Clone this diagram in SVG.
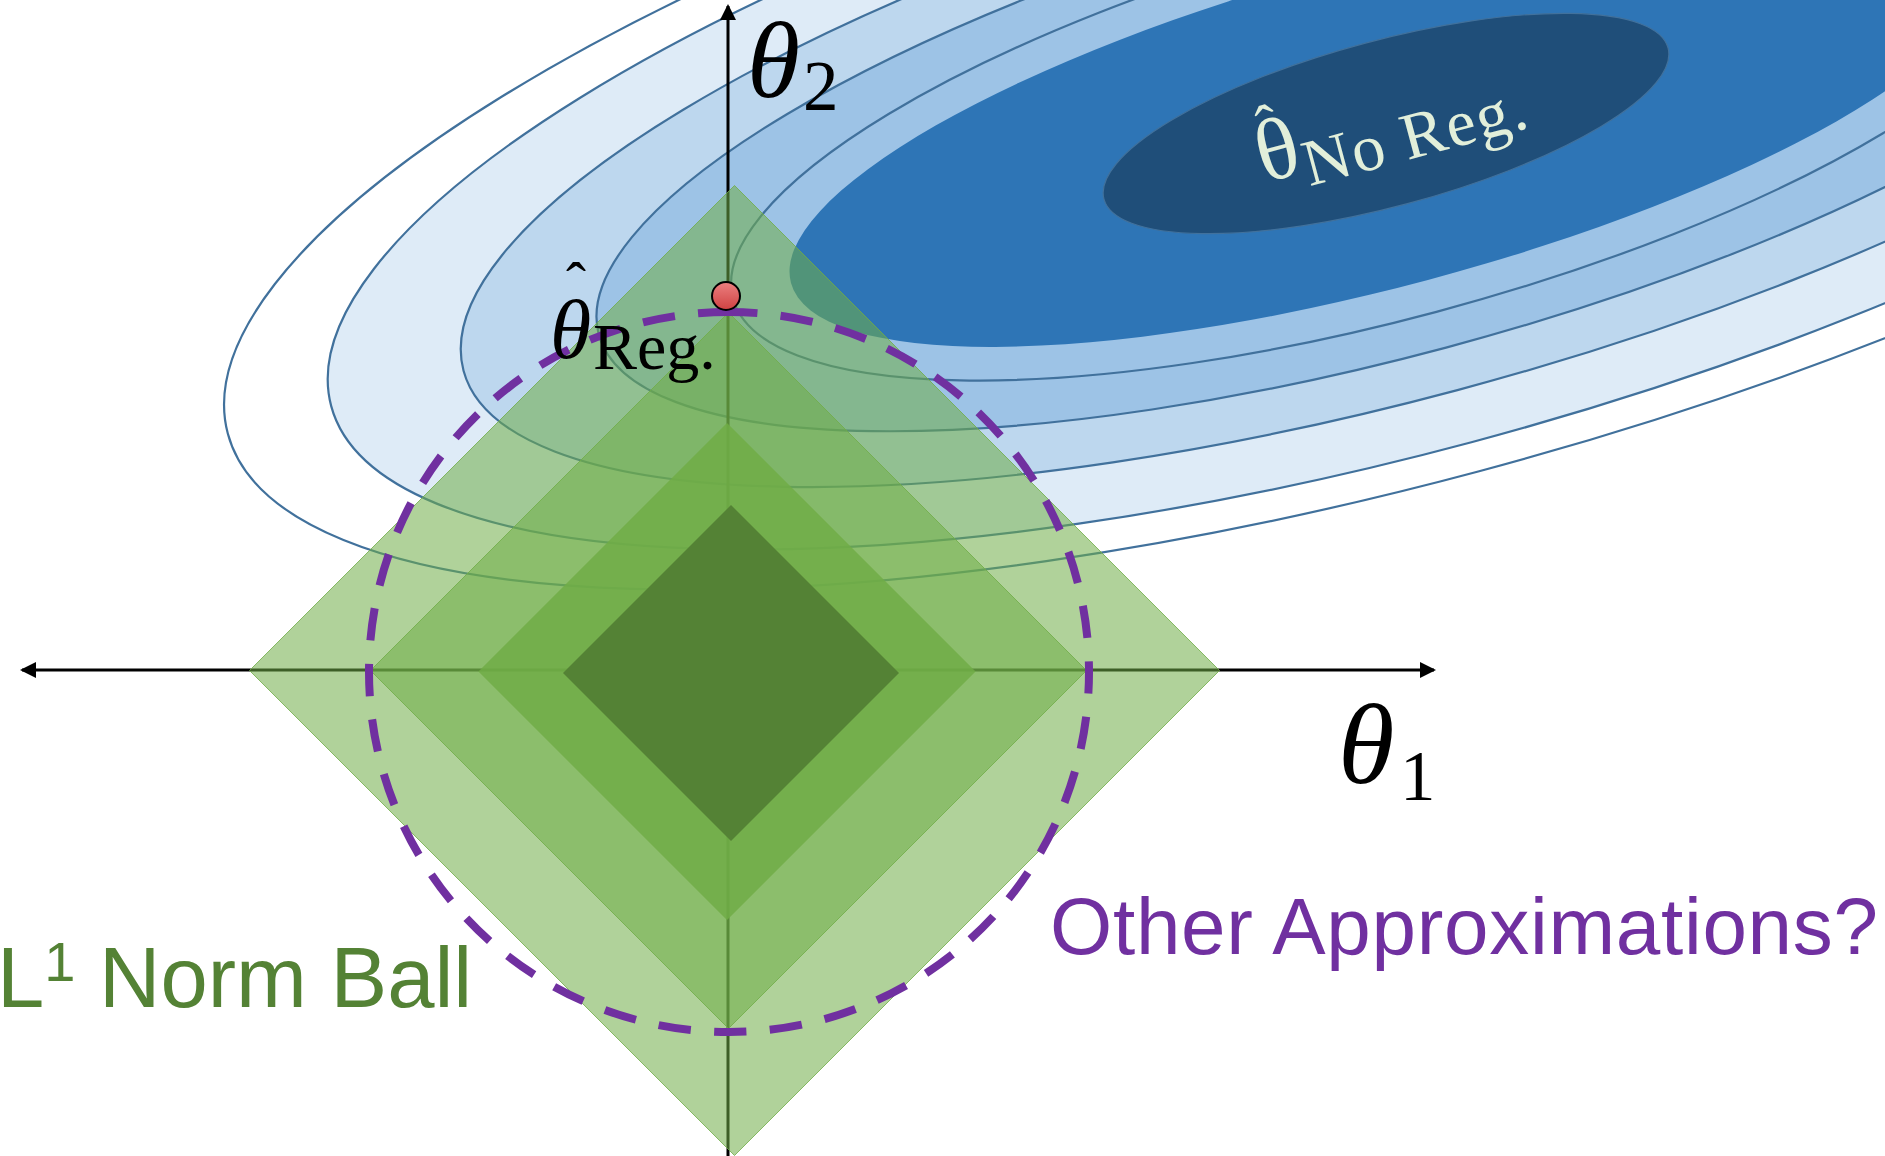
<svg xmlns="http://www.w3.org/2000/svg" width="1885" height="1156" viewBox="0 0 1885 1156">
<defs>
<style>
.cont{stroke:#41719c;stroke-width:2.2}
.dia{fill:#70AD47;stroke:#70AD47;stroke-width:1}
.axis{stroke:#000;stroke-width:3;fill:none}
.math{font-family:"Liberation Serif","DejaVu Serif",serif;fill:#000}
.it{font-style:italic}
.up{font-style:normal}
.lbl{font-family:"Liberation Sans","DejaVu Sans",sans-serif}
.pale{fill:#e2efda}
</style>
<marker id="arr" viewBox="0 0 16 16" refX="14" refY="8" markerWidth="16" markerHeight="16" markerUnits="userSpaceOnUse" orient="auto-start-reverse">
<path d="M0,0 L16,8 L0,16 Z" fill="#000"/>
</marker>
<linearGradient id="dotg" x1="0" y1="0" x2="0" y2="1">
<stop offset="0" stop-color="#ec8080"/>
<stop offset="1" stop-color="#cf4242"/>
</linearGradient>
</defs>
<rect width="1885" height="1156" fill="#fff"/>

<g id="loss-contours" transform="translate(1386,123.5) rotate(-15)">
<ellipse class="cont" fill="none" rx="1199" ry="360"/>
<ellipse class="cont" fill="#deebf7" rx="1092" ry="330"/>
<ellipse class="cont" fill="#bdd7ee" rx="955" ry="276"/>
<ellipse class="cont" fill="#9dc3e6" rx="815" ry="232"/>
<ellipse class="cont" fill="none" rx="676" ry="195"/>
<ellipse fill="#2e75b6" rx="616" ry="162"/>
<ellipse fill="#1f4e79" stroke="#41719c" stroke-width="1.2" rx="292" ry="83"/>
</g>

<g id="connectors">
<line class="axis" x1="728" y1="1156" x2="728" y2="6" marker-end="url(#arr)"/>
<line class="axis" x1="22" y1="670" x2="1434" y2="670" marker-start="url(#arr)" marker-end="url(#arr)"/>
</g>

<g id="l1-balls">
<polygon class="dia" fill-opacity="0.55" stroke-opacity="0.8" points="734.5,185.5 1219.5,670.5 734.5,1155.5 249.5,670.5"/>
<polygon class="dia" fill-opacity="0.55" stroke-opacity="0.8" points="728.5,312.5 1086.5,670.5 728.5,1028.5 370.5,670.5"/>
<polygon class="dia" fill-opacity="0.85" stroke-opacity="0.8" points="727,423.5 975,671.5 727,919.5 479,671.5"/>
<polygon fill="#548235" points="731,505 899,673 731,841 563,673"/>
</g>

<g id="approx-circle">
<path d="M729,312 A360,360 0 1 1 729,1032 A360,360 0 1 1 729,312" fill="none" stroke="#7030a0" stroke-width="8" stroke-dasharray="32.5 23.35" stroke-dashoffset="4"/>
</g>

<g id="theta-reg-point">
<circle cx="726" cy="296" r="14" fill="url(#dotg)" stroke="#000" stroke-width="2"/>
</g>

<g id="label-theta2">
<text class="math it" x="747" y="97" font-size="108">θ<tspan class="up" x="803" y="110" font-size="71">2</tspan></text>
</g>

<g id="label-theta1">
<text class="math it" x="1338" y="783" font-size="115">θ<tspan class="up" x="1400" y="800" font-size="71">1</tspan></text>
</g>

<g id="label-theta-reg">
<text class="math it" x="550" y="358" font-size="84">θ<tspan class="up" x="566" y="303" font-size="60">ˆ</tspan><tspan class="up" x="593" y="369" font-size="66">Reg.</tspan></text>
</g>

<g id="label-theta-noreg" transform="translate(1264,183) rotate(-15)">
<text class="math pale" x="0" y="0" font-size="88">θ<tspan x="8" y="-34" font-size="60">ˆ</tspan><tspan x="43" y="15" font-size="66" letter-spacing="1.5">No Reg.</tspan></text>
</g>

<g id="label-l1">
<text class="lbl" x="-3" y="1007" font-size="85" fill="#548235">L<tspan font-size="56" dy="-26">1</tspan><tspan dy="26"> Norm Ball</tspan></text>
</g>

<g id="label-other">
<text class="lbl" x="1050" y="954" font-size="80" fill="#7030a0" textLength="828">Other Approximations?</text>
</g>
</svg>
